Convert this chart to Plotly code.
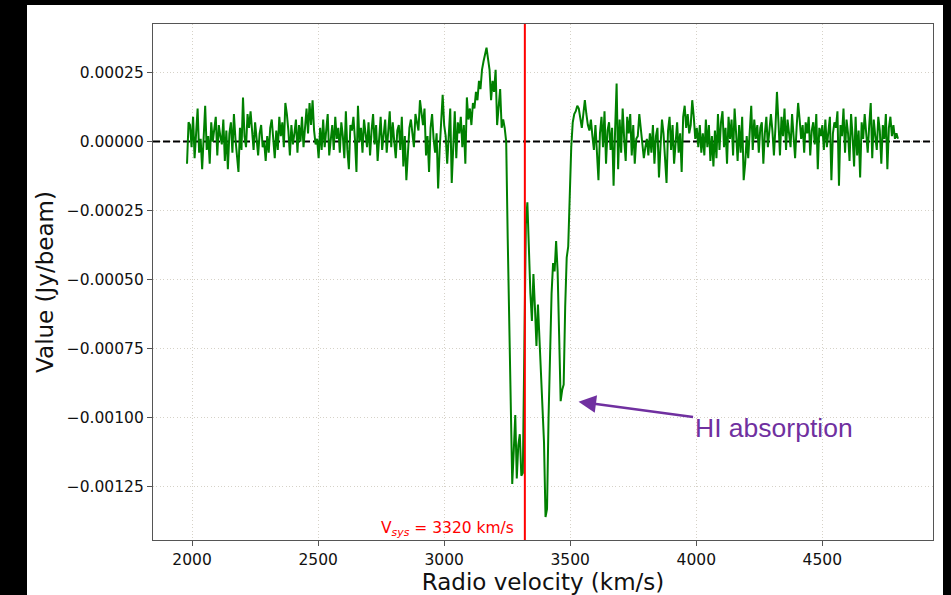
import numpy as np
import plotly.graph_objects as go

# Channel grid of the spectrum (km/s)
velocity_start = 1980.0
channel_width = 6.0

# Flux density per channel in units of 1e-5 Jy/beam (10 channels = 60 km/s per row)
flux_1e5 = [
    -8, 7, 6, -2, 9, -6, 3, 12, -4, 1,            # 1980
    -10, 5, 13, -3, 2, -8, 7, 0, 4, 9,            # 2040
    -5, 6, 2, -1, 8, -7, 4, -10, 3, 7,            # 2100
    -4, 10, 1, -6, -11, 5, -3, 16, 2, -2,         # 2160
    10, 5, 11, 4, -3, 7, 1, -5, 3, 6,             # 2220
    -2, 0, -7, 2, -4, 5, 8, 1, -6, 4,             # 2280
    -3, 9, 2, 7, -2, 14, 10, 4, -5, 6,            # 2340
    -1, 3, 8, -4, 6, 0, 9, -2, 5, 12,             # 2400
    3, 14, 6, 15, 4, -1, 1, -6, 5, -3,            # 2460
    8, -2, 4, 10, -5, 2, 6, -3, 9, 1,             # 2520
    5, -4, 7, 2, -6, 11, -3, -10, 6, 4,           # 2580
    9, 1, -11, 13, 0, 5, -4, 8, 3, -2,            # 2640
    7, -5, 4, 10, -1, 6, -7, 3, 9, -3,            # 2700
    2, 8, -4, 5, 11, -2, 7, 0, -6, 4,             # 2760
    6, -3, 9, -9, 2, -14, -6, 5, 8, 3,            # 2820
    -2, 10, 7, 4, 15, 9, 6, 12, -5, 2,            # 2880
    -11, 5, 10, 1, -4, 3, -17, -3, 9, 17,         # 2940
    6, 2, -8, 4, 12, -15, -3, 11, -6, 7,          # 3000
    3, 9, -2, 6, -8, 16, 8, 12, 6, 14,            # 3060
    12, 18, 15, 22, 19, 26, 29, 32, 34, 30,       # 3120
    26, 15, 22, 18, 26, 6, 12, 19, 5, 8,          # 3180
    5, 0, -35, -70, -105, -124, -112, -99, -122, -110,   # 3240
    -106, -121, -120, -70, -30, -22, -40, -55, -65, -48, # 3300
    -60, -74, -59, -73, -85, -100, -109, -136, -133, -100,  # 3360
    -72, -55, -44, -47, -36, -47, -70, -94, -90, -88,    # 3420
    -60, -42, -38, -16, -2, 7, 10, 11, 13, 12,    # 3480
    9, 5, 10, 15, 10, 6, 4, 8, 2, -3,             # 3540
    6, -6, -14, 3, 9, -2, 11, -8, 4, 7,           # 3600
    -3, 5, -16, 4, 21, -10, 8, -4, 12, 1,         # 3660
    -7, 9, 3, 10, -5, 6, -8, 1, 2, 10,            # 3720
    4, -3, -6, -2, 1, -5, 3, -4, 6, -8,           # 3780
    2, 5, -13, -2, 8, 3, -6, -15, 4, 9,           # 3840
    -3, 6, -8, 2, 7, -4, 3, -11, 9, 13,           # 3900
    5, 10, 3, 6, 15, 9, 1, 5, -2, 6,              # 3960
    -4, 3, -5, 8, -2, 6, -7, 2, -9, 4,            # 4020
    -6, 10, -3, 7, 11, -2, 5, -8, 9, 1,           # 4080
    8, -5, 12, 3, -7, 6, -4, 9, -14, -8,          # 4140
    2, -6, 4, 13, -3, 8, 1, 6, -4, 5,             # 4200
    7, -8, 3, 9, -2, 6, 10, 4, -5, 5,             # 4260
    18, 7, -5, 9, 2, 12, -3, 8, 4, -2,            # 4320
    10, 3, -6, 5, 14, 8, 1, 6, -4, 7,             # 4380
    3, 9, -5, 4, 7, -1, 10, -10, 5, 2,            # 4440
    6, -3, 8, -2, 4, 9, -14, 3, 7, 5,             # 4500
    11, -16, 6, 2, 12, -4, 8, 3, -7, 10,          # 4560
    2, -9, 9, -5, 4, -13, 7, 1, 10, 3,            # 4620
    -4, 6, 14, -6, 8, 2, -3, 9, 4, -8,            # 4680
    6, 1, 10, -10, 5, 9, 2, 6, 1, 3,              # 4740
    1,                                            # 4800
]

v_sys = 3320
x_ticks = [2000, 2500, 3000, 3500, 4000, 4500]
y_ticks = [0.00025, 0.0, -0.00025, -0.0005, -0.00075, -0.001, -0.00125]
y_ticklabels = ["0.00025", "0.00000", "\u22120.00025", "\u22120.00050",
                "\u22120.00075", "\u22120.00100", "\u22120.00125"]
arrow_tip = (3533, -0.000942)
x_range = [1845, 4939]
y_range = [-0.001443, 0.000426]

velocity = velocity_start + channel_width * np.arange(len(flux_1e5))
flux = np.array(flux_1e5) * 1e-5

fig = go.Figure()

# zero reference line
fig.add_trace(go.Scatter(x=x_range, y=[0, 0], mode="lines",
                         line=dict(color="black", width=2, dash="7px,3px"),
                         hoverinfo="skip", showlegend=False))
# spectrum
fig.add_trace(go.Scatter(x=velocity, y=flux, mode="lines",
                         line=dict(color="#008000", width=2), showlegend=False))
# systemic velocity
fig.add_trace(go.Scatter(x=[v_sys, v_sys], y=y_range, mode="lines",
                         line=dict(color="#ff0000", width=2), showlegend=False))

axis_common = dict(
    showline=True, mirror=True, linecolor="#555555", linewidth=1.3,
    ticks="outside", ticklen=5, tickwidth=1.2, tickcolor="#555555",
    showgrid=True, gridcolor="#d6d2c8", griddash="1px,2.4px", gridwidth=1,
    zeroline=False,
    tickfont=dict(family="DejaVu Sans", size=15.5, color="#111111"),
)

fig.update_xaxes(range=x_range, tickvals=x_ticks,
                 title=dict(text="Radio velocity (km/s)",
                            font=dict(family="DejaVu Sans", size=23, color="#111111"),
                            standoff=6),
                 **axis_common)
fig.update_yaxes(range=y_range, tickvals=y_ticks, ticktext=y_ticklabels,
                 title=dict(text="Value (Jy/beam)",
                            font=dict(family="DejaVu Sans", size=23, color="#111111"),
                            standoff=6),
                 **axis_common)

fig.add_annotation(x=v_sys, y=0, xref="x", yref="paper",
                   text="V<sub><i>sys</i></sub> = 3320 km/s", showarrow=False,
                   xanchor="right", yanchor="bottom", xshift=-9, yshift=-1,
                   font=dict(family="DejaVu Sans", size=15.5, color="#ff0000"))

fig.add_annotation(x=arrow_tip[0], y=arrow_tip[1], xref="x", yref="y",
                   text="HI absorption", showarrow=True,
                   ax=195, ay=26, axref="pixel", ayref="pixel",
                   arrowhead=2, arrowsize=1.4, arrowwidth=2.5, arrowcolor="#7030A0",
                   standoff=0, startstandoff=0,
                   font=dict(family="Liberation Sans", size=26.5, color="#7030A0"))

# black frame around the white figure area
for x0, x1, y0, y1 in [(-0.3, (27 - 153) / 780, -0.2, 1.2),
                       ((943 - 153) / 780, 1.2, -0.2, 1.2),
                       (-0.3, 1.2, (540 - 5) / 516, 1.2)]:
    fig.add_shape(type="rect", xref="paper", yref="paper",
                  x0=x0, x1=x1, y0=y0, y1=y1, fillcolor="black",
                  line=dict(width=0), layer="above")

fig.update_layout(
    width=951, height=595,
    margin=dict(l=153, r=18, t=24, b=55, autoexpand=False),
    paper_bgcolor="white", plot_bgcolor="white",
    showlegend=False,
)

fig.write_html("out.html")
